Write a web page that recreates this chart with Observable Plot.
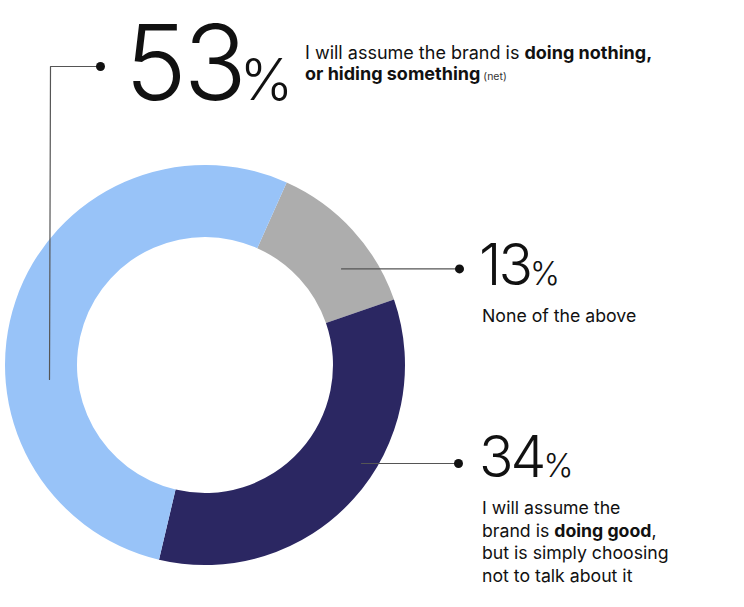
<!DOCTYPE html>
<html>
<head>
<meta charset="utf-8">
<script src="https://cdn.jsdelivr.net/npm/d3@7"></script>
<script src="https://cdn.jsdelivr.net/npm/@observablehq/plot@0.6"></script>
<style>
  html, body { margin: 0; padding: 0; background: #fff; }
  svg { display: block; }
</style>
</head>
<body>
<div id="chart"></div>
<script>
// ---- data ----
const categories = ["None of the above", "Doing good, not talking", "Doing nothing or hiding something (net)"];
const shares = [13, 34, 53];
const colors = ["#adadad", "#2b2762", "#98c3f8"];
const startDeg = 24.1;     // where the first slice begins (clockwise from top)
const innerRatio = 0.64;   // donut hole relative to outer radius

// leader lines (in donut units: centre = 0,0, outer radius = 1)
const leaderSeries = ["53", "53", "53", "13", "13", "34", "34"];
const leaderX = [-0.78, -0.775, -0.525, 0.68, 1.27, 0.78, 1.265];
const leaderY = [-0.07, 1.495, 1.495, 0.483, 0.483, -0.49, -0.49];

// big numbers
const bigValues = ["53", "13", "34"];
const bigX = [-0.40, 1.37, 1.37];
const bigY = [1.325, 0.40, -0.56];
const bigSize = [104, 57, 57];
const pctSize = [57, 32, 32];
const pctDx = [-4, 0, 0];

// descriptions: runs [text, bold?] per line
const descLines = [
  [[["I will assume the brand is ", false], ["doing nothing,", true]],
   [["or hiding something", true], [" (net)", "small"]]],
  [[["None of the above", false]]],
  [[["I will assume the", false]],
   [["brand is ", false], ["doing good", true], [",", false]],
   [["but is simply choosing", false]],
   [["not to talk about it", false]]]
];
const descX = [0.5, 1.385, 1.385];
const descY = [1.53, 0.215, -0.745];
const descSize = [18, 17.7, 17.7];
const descLead = [21, 22, 22.5];

const table = categories.map((c, i) => ({category: c, share: shares[i], color: colors[i]}));

// ---- custom donut mark ----
function donut(index, scales) {
  const cx = scales.x(0), cy = scales.y(0);
  const r = scales.x(1) - scales.x(0);
  const a0 = startDeg * Math.PI / 180;
  const arcs = d3.pie().sort(null).value(d => d.share).startAngle(a0).endAngle(a0 + 2 * Math.PI)(table);
  const arc = d3.arc().innerRadius(r * innerRatio).outerRadius(r);
  const g = d3.create("svg:g").attr("transform", `translate(${cx},${cy})`);
  g.selectAll("path").data(arcs).join("path")
    .attr("d", arc)
    .attr("fill", d => d.data.color);
  return g.node();
}

function labels(index, scales) {
  const g = d3.create("svg:g")
    .attr("font-family", "Inter, 'Noto Sans', sans-serif")
    .attr("text-anchor", "start")
    .attr("fill", "#111");
  bigValues.forEach((v, i) => {
    const t = g.append("text").attr("x", scales.x(bigX[i])).attr("y", scales.y(bigY[i]));
    t.append("tspan").attr("font-size", bigSize[i]).attr("font-weight", 300).attr("letter-spacing", -3).text(v);
    t.append("tspan").attr("font-size", pctSize[i]).attr("font-weight", 300).attr("dx", pctDx[i]).text("%");
  });
  descLines.forEach((lines, i) => {
    const x = scales.x(descX[i]);
    const y0 = scales.y(descY[i]);
    lines.forEach((runs, j) => {
      const t = g.append("text").attr("x", x).attr("y", y0 + j * descLead[i]).attr("font-size", descSize[i]);
      runs.forEach(([s, b]) => {
        const sp = t.append("tspan").text(s);
        if (b === true) sp.attr("font-weight", 700);
        else if (b === "small") sp.attr("font-size", 10.5).attr("fill", "#333");
        else sp.attr("font-weight", 400);
      });
    });
  });
  return g.node();
}

const leaders = leaderSeries.map((s, i) => ({s, x: leaderX[i], y: leaderY[i]}));
const dotsData = ["53", "13", "34"].map(s => {
  const pts = leaders.filter(d => d.s === s);
  return pts[pts.length - 1];
});

const chart = Plot.plot({
  width: 744,
  height: 607,
  margin: 0,
  x: {domain: [-1.025, 2.695], axis: null},
  y: {domain: [-1.21, 1.825], axis: null},
  marks: [
    donut,
    Plot.line(leaders, {x: "x", y: "y", z: "s", stroke: "#555", strokeWidth: 1.2}),
    Plot.dot(dotsData, {x: "x", y: "y", r: 4.5, fill: "#111", stroke: null}),
    labels
  ]
});
document.getElementById("chart").appendChild(chart);
</script>
</body>
</html>
